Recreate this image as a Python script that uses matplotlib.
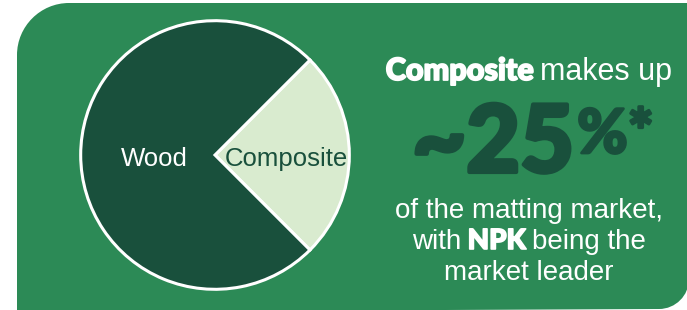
import matplotlib
matplotlib.use("Agg")
import matplotlib.pyplot as plt
import matplotlib.patheffects as pe
from matplotlib.path import Path
from matplotlib.patches import PathPatch
import numpy as np

# data
labels = ["Composite", "Wood"]
shares = [25, 75]
label_dist = [0.53, 0.45]

bg_green = "#2C8A56"
dark_green = "#19503C"
light_green = "#D9EBCF"

W, H = 687, 310
fig = plt.figure(figsize=(W / 100, H / 100), dpi=100)
fig.patch.set_facecolor("white")

# background panel (pixel coords, y down)
bg = fig.add_axes([0, 0, 1, 1])
bg.set_xlim(0, W)
bg.set_ylim(H, 0)
bg.axis("off")
r1, r2 = 52, 30
k = 0.55
bot = 309
verts = [(17, H + 2), (17, 3 + r1),
         (17, 3 + r1 * (1 - k)), (17 + r1 * (1 - k), 3), (17 + r1, 3),
         (W + 2, 3), (W + 2, bot - r2),
         (W + 2, bot - r2 * (1 - k)), (W + 2 - r2 * (1 - k), bot), (W + 2 - r2, bot),
         (17, H + 2), (17, H + 2)]
codes = [Path.MOVETO, Path.LINETO,
         Path.CURVE4, Path.CURVE4, Path.CURVE4,
         Path.LINETO, Path.LINETO,
         Path.CURVE4, Path.CURVE4, Path.CURVE4,
         Path.LINETO, Path.CLOSEPOLY]
bg.add_patch(PathPatch(Path(verts, codes), facecolor=bg_green, edgecolor="none"))

# pie
cx, cy, rad = 215, 155, 137
ax = fig.add_axes([(cx - rad) / W, 1 - (cy + rad) / H, 2 * rad / W, 2 * rad / H])
wedges, _ = ax.pie(shares, colors=[light_green, dark_green], startangle=-45,
                   radius=1, wedgeprops=dict(edgecolor="white", linewidth=2.2))
ax.set_xlim(-1.02, 1.02)
ax.set_ylim(-1.02, 1.02)
for w, lab, d in zip(wedges, labels, label_dist):
    ang = np.deg2rad((w.theta1 + w.theta2) / 2)
    col = dark_green if lab == "Composite" else "white"
    ax.text(d * np.cos(ang), d * np.sin(ang) - 0.03, lab, ha="center", va="center",
            color=col, fontsize=18.5, family="Liberation Sans")

REG = dict(family="Liberation Sans")


def heavy(col, lw):
    # thicken the bold face a little with a same-colour stroke
    return dict(family="Lato", fontweight="black",
                path_effects=[pe.withStroke(linewidth=lw, foreground=col)])


fig.canvas.draw()
renderer = fig.canvas.get_renderer()


def row(y, parts, xc, gap):
    """lay out text pieces side by side, centred on xc"""
    ts = []
    for s, kw in parts:
        ts.append(bg.text(0, y + kw.pop("dy", 0), s, ha="left", va="baseline", **kw))
    widths = [t.get_window_extent(renderer).width for t in ts]
    total = sum(widths) + gap * (len(ts) - 1)
    x = xc - total / 2
    for t, wd in zip(ts, widths):
        t.set_x(x)
        x += wd + gap


row(80, [("Composite", dict(color="white", fontsize=22, **heavy("white", 1.3))),
         ("makes up", dict(color="white", fontsize=22, **REG))], 529, 7)
row(172, [("~25", dict(color=dark_green, fontsize=67, **heavy(dark_green, 3))),
          ("%*", dict(color=dark_green, fontsize=44, dy=-19, **heavy(dark_green, 2)))],
    533, 3)
row(218, [("of the matting market,", dict(color="white", fontsize=20, **REG))], 529, 0)
row(249, [("with", dict(color="white", fontsize=20, **REG)),
          ("NPK", dict(color="white", fontsize=20, **heavy("white", 1.2))),
          ("being the", dict(color="white", fontsize=20, **REG))], 529, 6)
row(280, [("market leader", dict(color="white", fontsize=20, **REG))], 529, 0)

fig.savefig("out.png", dpi=100)
